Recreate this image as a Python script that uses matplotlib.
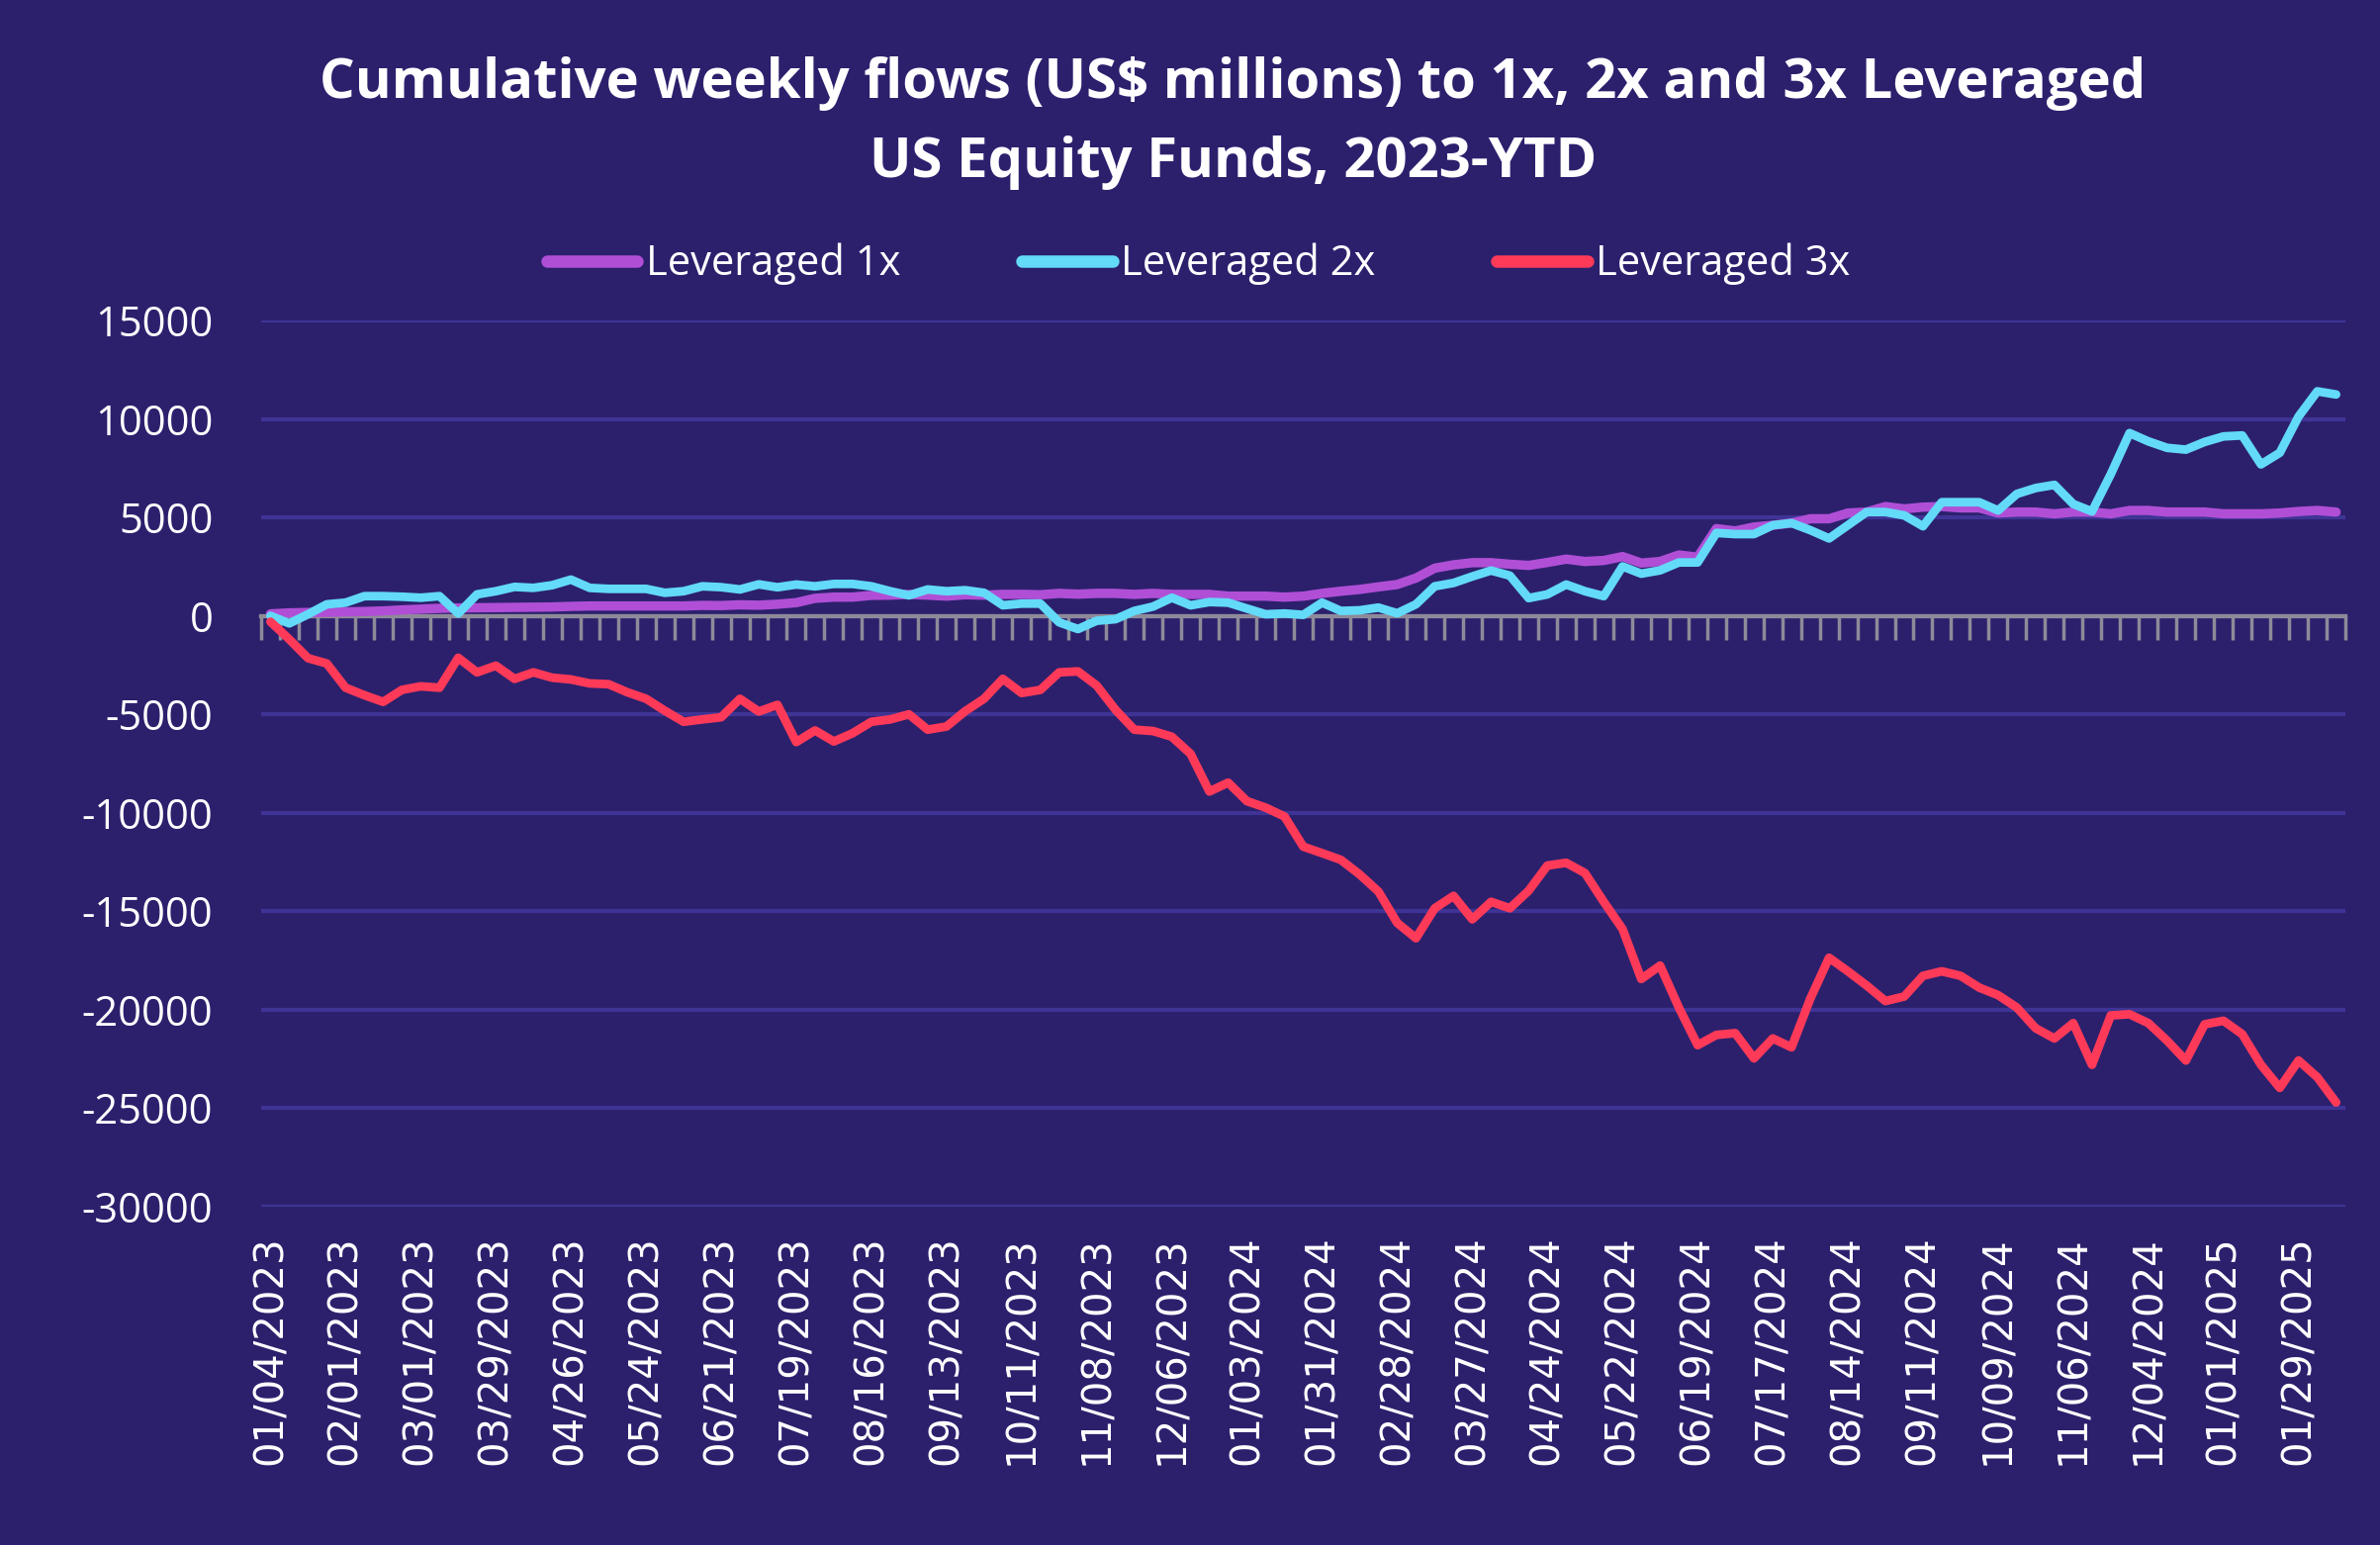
import matplotlib
matplotlib.use("Agg")
import matplotlib.pyplot as plt
import numpy as np
import pandas as pd

# ---------------- data ----------------
weeks = pd.date_range("2023-01-04", periods=111, freq="7D").strftime("%m/%d/%Y").tolist()

lev_1x = [100, 150, 170, 180, 200, 220, 250, 300, 340, 380,
          400, 410, 420, 430, 440, 450, 480, 500, 500, 500,
          500, 500, 500, 530, 520, 560, 540, 590, 670, 890,
          950, 950, 1040, 1050, 1090, 1050, 1000, 1070, 1050, 1090,
          1090, 1070, 1140, 1100, 1140, 1140, 1090, 1140, 1090, 1090,
          1090, 1000, 1000, 1000, 950, 1000, 1140, 1250, 1340, 1470,
          1590, 1920, 2420, 2590, 2700, 2700, 2620, 2560, 2710, 2880,
          2760, 2810, 3010, 2680, 2760, 3090, 2980, 4430, 4310, 4510,
          4600, 4710, 4930, 4930, 5220, 5270, 5550, 5430, 5520, 5550,
          5480, 5480, 5220, 5270, 5270, 5180, 5270, 5270, 5180, 5350,
          5350, 5270, 5270, 5270, 5180, 5180, 5180, 5220, 5300, 5350,
          5270]

lev_2x = [0, -385, 80, 585, 670, 1000, 1000, 970, 920, 1000,
          120, 1090, 1250, 1470, 1420, 1555, 1840, 1420, 1370, 1370,
          1370, 1170, 1250, 1500, 1455, 1340, 1600, 1450, 1590, 1500,
          1620, 1620, 1500, 1250, 1040, 1340, 1250, 1300, 1170, 535,
          620, 620, -330, -670, -250, -170, 250, 470, 920, 535,
          700, 670, 370, 80, 120, 50, 670, 250, 280, 420,
          130, 585, 1500, 1670, 2000, 2300, 2040, 900, 1090, 1590,
          1250, 1000, 2510, 2140, 2310, 2710, 2710, 4210, 4150, 4150,
          4600, 4710, 4350, 3930, 4600, 5270, 5270, 5100, 4550, 5770,
          5770, 5770, 5350, 6190, 6490, 6650, 5680, 5300, 7190, 9280,
          8860, 8530, 8440, 8830, 9110, 9160, 7690, 8280, 10120, 11400,
          11240]

lev_3x = [-300, -1190, -2150, -2420, -3650, -4030, -4370, -3760, -3580, -3650,
          -2130, -2870, -2530, -3200, -2870, -3140, -3230, -3430, -3470, -3880,
          -4210, -4820, -5380, -5260, -5150, -4210, -4860, -4520, -6410, -5820,
          -6380, -5960, -5380, -5260, -5000, -5780, -5620, -4840, -4210, -3200,
          -3920, -3760, -2870, -2820, -3540, -4770, -5780, -5850, -6140, -7010,
          -8920, -8470, -9410, -9740, -10190, -11720, -12050, -12390, -13130, -14000,
          -15590, -16370, -14850, -14220, -15410, -14520, -14850, -13960, -12680, -12540,
          -13060, -14520, -15900, -18440, -17760, -19890, -21800, -21280, -21190, -22470,
          -21460, -21910, -19440, -17360, -18050, -18770, -19560, -19330, -18280, -18050,
          -18280, -18880, -19260, -19890, -20940, -21460, -20680, -22800, -20290, -20230,
          -20680, -21570, -22580, -20740, -20560, -21240, -22800, -23970, -22580, -23430,
          -24710]

series_names = ["Leveraged 1x", "Leveraged 2x", "Leveraged 3x"]
series_colors = ["#B04FD6", "#63DAF8", "#FF3A58"]

y_ticks = [15000, 10000, 5000, 0, -5000, -10000, -15000, -20000, -25000, -30000]
label_step = 4

title_text = "Cumulative weekly flows (US$ millions) to 1x, 2x and 3x Leveraged\nUS Equity Funds, 2023-YTD"

# ---------------- style ----------------
BG = "#2C206D"
GRID = "#3F3495"
AXIS = "#8E8A99"
FONT = ["Open Sans", "DejaVu Sans"]
plt.rcParams["font.family"] = FONT

fig = plt.figure(figsize=(24.06, 15.62), dpi=100, facecolor=BG)
ax = fig.add_axes([0.1097, 0.219, 0.8758, 0.5736])
ax.set_facecolor(BG)

x = np.arange(len(weeks))
for vals, name, col, lw in zip([lev_1x, lev_2x, lev_3x], series_names, series_colors, [6.8, 6.3, 6.3]):
    ax.plot(x, vals, color=col, lw=lw, label=name,
            solid_joinstyle="round", solid_capstyle="round", zorder=3)

ax.set_xlim(-0.5, len(weeks) - 0.5)
ax.set_ylim(min(y_ticks), max(y_ticks))
ax.set_yticks(y_ticks)
ax.set_yticklabels([f"{v}" for v in y_ticks])
ax.yaxis.grid(True, color=GRID, lw=3, zorder=0)
ax.set_axisbelow(True)
ax.tick_params(axis="y", length=0, pad=35, labelsize=30, labelcolor="white")

# category labels at the bottom
ax.set_xticks(x[::label_step])
ax.set_xticklabels(weeks[::label_step], rotation=90, fontsize=29, color="white",
                   family=["DejaVu Sans"])
ax.tick_params(axis="x", length=0, pad=21)

for s in ax.spines.values():
    s.set_visible(False)

# zero axis line with weekly boundary tick marks
ymin, ymax = ax.get_ylim()
zero_pos = (0 - ymin) / (ymax - ymin)
sec = ax.secondary_xaxis(zero_pos)
sec.set_xticks(np.arange(len(weeks) + 1) - 0.5)
sec.set_xticklabels([])
sec.xaxis.set_ticks_position("bottom")
sec.tick_params(axis="x", which="both", direction="out", length=17, width=2.5,
                color=AXIS, top=False, bottom=True, labelbottom=False, labeltop=False)
for k, s in sec.spines.items():
    s.set_visible(k in ("bottom", "top"))
    s.set_color(AXIS)
    s.set_linewidth(3)
sec.set_zorder(2)

# title and legend
fig.text(0.518, 0.9205, title_text, ha="center", va="center", color="white",
         fontsize=40.5, fontweight="bold", linespacing=1.6)

leg = fig.legend(loc="center", bbox_to_anchor=(0.5035, 0.829), ncol=3, frameon=False,
                 fontsize=30, handlelength=2.2, handletextpad=0.2, columnspacing=2.95)
for t in leg.get_texts():
    t.set_color("white")
for h in leg.get_lines():
    h.set_linewidth(9)
    h.set_solid_capstyle("round")

fig.savefig("out.png", dpi=100, facecolor=BG)
